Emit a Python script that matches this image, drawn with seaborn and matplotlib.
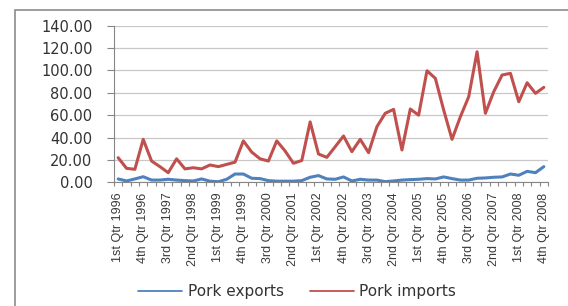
import matplotlib

matplotlib.use("Agg")
import numpy as np
import pandas as pd
import seaborn as sns
from matplotlib import pyplot as plt
from matplotlib.lines import Line2D
from matplotlib.patches import Rectangle
from matplotlib.ticker import FixedLocator, FuncFormatter

# 四半期ラベル (1996 Q1 - 2008 Q4)
years = list(range(1996, 2009))
quarter_names = ["1st Qtr", "2nd Qtr", "3rd Qtr", "4th Qtr"]
quarters = [f"{q} {y}" for y in years for q in quarter_names]

pork_exports = [
    3.0, 1.2, 3.0, 5.0, 2.0, 2.0, 2.7, 2.0, 1.5, 1.2, 3.0, 1.0, 0.5, 2.7, 7.4, 7.4,
    3.6, 3.3, 1.5, 1.0, 1.0, 1.0, 1.5, 4.5, 6.0, 3.0, 2.7, 4.8, 1.2, 2.7, 2.0, 2.0,
    0.6, 1.2, 2.0, 2.4, 2.7, 3.3, 3.0, 4.8, 3.3, 2.0, 2.0, 3.6, 3.9, 4.5, 4.8, 7.4,
    6.3, 9.8, 8.6, 14.0,
]
pork_imports = [
    22.0, 12.5, 11.6, 38.4, 19.0, 14.0, 8.6, 21.0, 12.0, 13.0, 12.0, 15.5, 14.0, 16.0,
    18.0, 37.0, 27.0, 21.0, 19.0, 37.0, 28.0, 17.0, 19.5, 54.0, 25.3, 22.3, 31.8, 41.4,
    27.4, 38.4, 26.5, 49.7, 61.7, 65.2, 28.9, 65.5, 60.0, 99.7, 93.0, 64.6, 38.4, 58.6,
    76.5, 116.7, 61.7, 81.0, 95.9, 97.4, 72.0, 89.0, 79.5, 84.9,
]
series_names = ["Pork exports", "Pork imports"]
colors = ["#4F81BD", "#C0504D"]

df = pd.DataFrame(
    {
        "idx": list(range(len(quarters))) * 2,
        "value": pork_exports + pork_imports,
        "series": [series_names[0]] * len(quarters) + [series_names[1]] * len(quarters),
    }
)

sns.set_style("white")
plt.rcParams["font.family"] = ["DejaVu Sans"]

fig = plt.figure(figsize=(5.68, 3.06), dpi=100)
ax = fig.add_axes([114 / 568, 1 - 182.3 / 306, (548 - 114) / 568, (182.3 - 25.7) / 306])

sns.lineplot(
    data=df, x="idx", y="value", hue="series", hue_order=series_names,
    palette=colors, linewidth=2.2, legend=False, ax=ax,
)

n = len(quarters)
ax.set_xlim(-0.5, n - 0.5)
ax.set_ylim(0, 140)
ax.set_xlabel("")
ax.set_ylabel("")

# y軸
ax.set_yticks(np.arange(0, 141, 20))
ax.yaxis.set_major_formatter(FuncFormatter(lambda v, _: f"{v:.2f}"))
ax.tick_params(axis="y", length=5, width=0.8, color="#868686", pad=10.5,
               labelsize=10.5, labelcolor="#333333", left=True)
ax.grid(axis="y", color="#C8C8C8", linewidth=0.9)
ax.grid(axis="x", visible=False)

# x軸: ラベルは3四半期ごと、目盛りは区切りごと
ax.set_xticks(list(range(0, n, 3)))
ax.set_xticklabels(quarters[::3], rotation=90, fontsize=9, family=["Liberation Sans", "DejaVu Sans"],
                   color="#3a3a3a")
ax.tick_params(axis="x", which="major", length=0, pad=7.5)
ax.xaxis.set_minor_locator(FixedLocator(np.arange(-0.5, n, 1)))
ax.tick_params(axis="x", which="minor", length=2.8, width=0.8, color="#868686", bottom=True)

for side in ["top", "right"]:
    ax.spines[side].set_visible(False)
for side in ["left", "bottom"]:
    ax.spines[side].set_color("#868686")
    ax.spines[side].set_linewidth(0.8)

# 凡例
handles = [Line2D([], [], color=c, linewidth=1.3) for c in colors]
fig.legend(handles, series_names, loc="center", bbox_to_anchor=(0.523, 0.046), ncol=2,
           frameon=False, fontsize=11, handlelength=2.9, handletextpad=0.35,
           columnspacing=1.7, labelcolor="#333333")

# 外枠
fig.add_artist(Rectangle((14.5 / 568, -0.2), 1.5, 1.2 - 9.8 / 306, transform=fig.transFigure,
                         fill=False, edgecolor="#8C8C8C", linewidth=1.2))

fig.savefig("out.png", dpi=100)
